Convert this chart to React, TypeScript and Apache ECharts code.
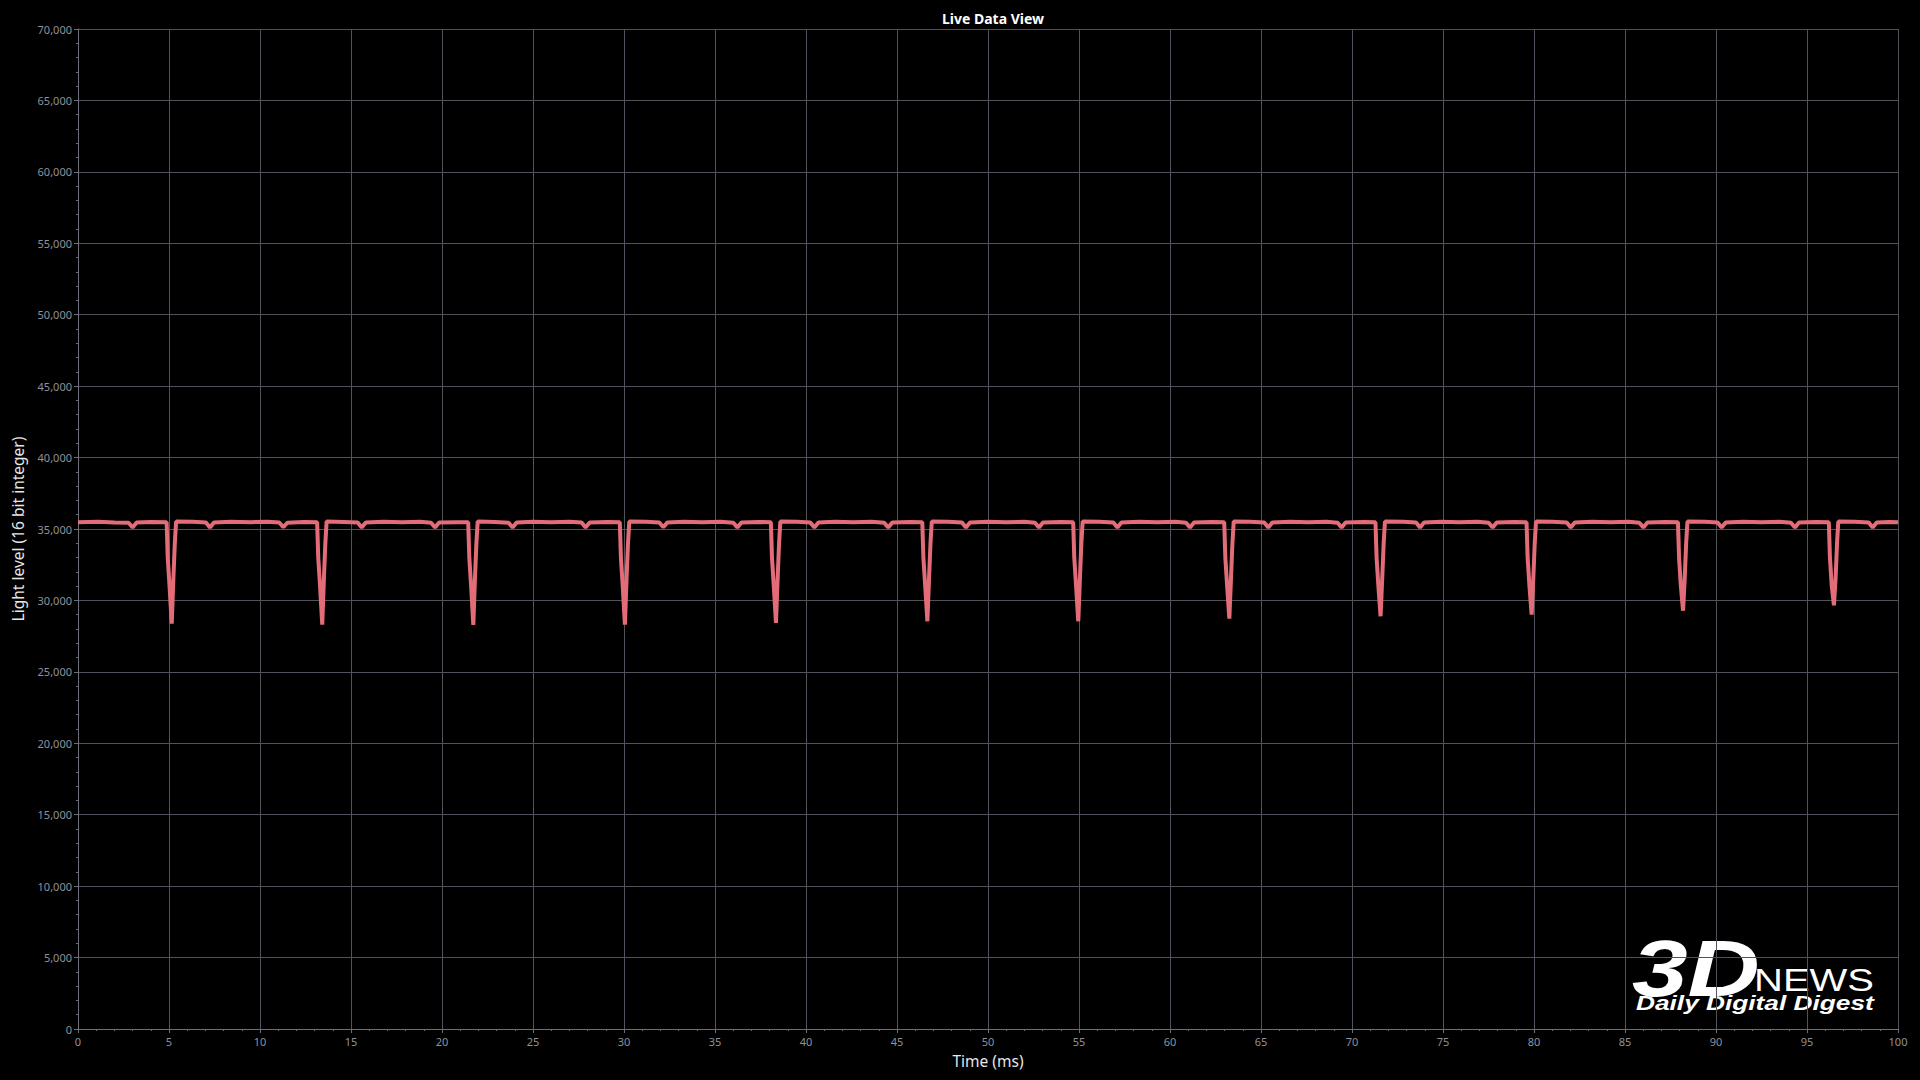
import React, { useEffect, useRef } from "react";
import * as echarts from "echarts";

const TITLE = "Live Data View";
const X_NAME = "Time (ms)";
const Y_NAME = "Light level (16 bit integer)";
const X_MIN = 0;
const X_MAX = 100;
const X_STEP = 5;
const Y_MIN = 0;
const Y_MAX = 70000;
const Y_STEP = 5000;

// [time (ms), light level]
const TRACE_POINTS: [number, number][] = [
  [0, 35470], [1.1, 35500], [2.0, 35460],
  [2.78, 35440], [3.0, 35110], [3.22, 35450],
  [4.0, 35490],
  [4.87, 35470], [4.93, 33000], [5.03, 31000], [5.15, 28370], [5.24, 31500], [5.32, 34000], [5.39, 35520],
  [6.3, 35500],
  [7.03, 35450], [7.25, 35100], [7.47, 35450],
  [8.4, 35500], [9.5, 35480], [10.4, 35510],
  [11.06, 35450], [11.28, 35120], [11.5, 35440],
  [12.4, 35490],
  [13.14, 35470], [13.2, 33000], [13.3, 31000], [13.42, 28300], [13.51, 31500], [13.59, 34000], [13.66, 35530],
  [14.6, 35490],
  [15.37, 35450], [15.59, 35110], [15.81, 35450],
  [16.8, 35500], [17.8, 35470], [18.8, 35500],
  [19.4, 35440], [19.62, 35100], [19.84, 35450],
  [20.8, 35480],
  [21.44, 35470], [21.5, 33000], [21.6, 31000], [21.72, 28280], [21.81, 31500], [21.89, 34000], [21.96, 35520],
  [22.9, 35490],
  [23.66, 35440], [23.88, 35110], [24.1, 35450],
  [25.0, 35500], [26.0, 35480], [27.0, 35510],
  [27.67, 35450], [27.89, 35110], [28.11, 35450],
  [29.1, 35490],
  [29.77, 35470], [29.83, 33000], [29.93, 31000], [30.05, 28300], [30.14, 31500], [30.22, 34000], [30.29, 35520],
  [31.2, 35500],
  [31.94, 35450], [32.16, 35120], [32.38, 35450],
  [33.3, 35500], [34.3, 35480], [35.3, 35500],
  [36.01, 35440], [36.23, 35100], [36.45, 35450],
  [37.4, 35490],
  [38.07, 35470], [38.13, 33000], [38.23, 31000], [38.35, 28420], [38.44, 31500], [38.52, 34000], [38.59, 35520],
  [39.5, 35500],
  [40.24, 35450], [40.46, 35110], [40.68, 35450],
  [41.6, 35500], [42.6, 35470], [43.6, 35500],
  [44.3, 35440], [44.52, 35100], [44.74, 35450],
  [45.7, 35490],
  [46.39, 35470], [46.45, 33000], [46.55, 31000], [46.67, 28540], [46.76, 31500], [46.84, 34000], [46.91, 35520],
  [47.8, 35500],
  [48.57, 35450], [48.79, 35110], [49.01, 35450],
  [50.0, 35500], [51.0, 35480], [52.0, 35500],
  [52.58, 35440], [52.8, 35100], [53.02, 35450],
  [54.0, 35490],
  [54.68, 35470], [54.74, 33000], [54.84, 31000], [54.96, 28540], [55.05, 31500], [55.13, 34000], [55.2, 35520],
  [56.1, 35500],
  [56.89, 35450], [57.11, 35110], [57.33, 35450],
  [58.3, 35500], [59.3, 35470], [60.3, 35500],
  [60.88, 35440], [61.1, 35100], [61.32, 35450],
  [62.3, 35490],
  [62.98, 35470], [63.04, 33000], [63.14, 31000], [63.26, 28720], [63.35, 31500], [63.43, 34000], [63.5, 35520],
  [64.4, 35500],
  [65.18, 35450], [65.4, 35110], [65.62, 35450],
  [66.6, 35500], [67.6, 35480], [68.6, 35500],
  [69.21, 35440], [69.43, 35100], [69.65, 35450],
  [70.6, 35490],
  [71.29, 35470], [71.35, 33000], [71.45, 31000], [71.57, 28890], [71.66, 31500], [71.74, 34000], [71.81, 35520],
  [72.8, 35500],
  [73.52, 35450], [73.74, 35110], [73.96, 35450],
  [74.9, 35500], [75.9, 35470], [76.9, 35500],
  [77.51, 35440], [77.73, 35100], [77.95, 35450],
  [78.9, 35490],
  [79.59, 35470], [79.65, 33000], [79.75, 31000], [79.87, 29000], [79.96, 31500], [80.04, 34000], [80.11, 35520],
  [81.0, 35500],
  [81.8, 35450], [82.02, 35110], [82.24, 35450],
  [83.2, 35500], [84.2, 35480], [85.2, 35500],
  [85.79, 35440], [86.01, 35100], [86.23, 35450],
  [87.2, 35490],
  [87.91, 35470], [87.97, 33000], [88.07, 31000], [88.19, 29280], [88.28, 31500], [88.36, 34000], [88.43, 35520],
  [89.4, 35500],
  [90.09, 35450], [90.31, 35110], [90.53, 35450],
  [91.5, 35500], [92.5, 35470], [93.5, 35500],
  [94.12, 35440], [94.34, 35100], [94.56, 35450],
  [95.5, 35490],
  [96.2, 35470], [96.26, 33000], [96.36, 31000], [96.48, 29660], [96.57, 31500], [96.65, 34000], [96.72, 35520],
  [97.6, 35500],
  [98.39, 35450], [98.61, 35110], [98.83, 35450],
  [99.5, 35490], [100, 35470],
];

const FONT = "'Noto Sans', 'Open Sans', sans-serif";
const GRID_COLOR = "#50535b";
const AXIS_COLOR = "#6d7078";
const LABEL_COLOR = "#8f929a";
const LINE_COLOR = "#e26d78";

export default function App() {
  const ref = useRef<HTMLDivElement>(null);

  useEffect(() => {
    document.body.style.margin = "0";
    document.body.style.background = "#000";
    if (!ref.current) return;
    const chart = echarts.init(ref.current, null, { renderer: "svg" });
    chart.setOption({
      animation: false,
      backgroundColor: "#000000",
      title: {
        text: TITLE,
        left: 988,
        top: 6,
        textAlign: "center",
        textStyle: { color: "#ffffff", fontSize: 14, fontWeight: "bold", fontFamily: FONT },
      },
      grid: { left: 78, right: 22, top: 29, bottom: 51, containLabel: false },
      xAxis: {
        type: "value",
        min: X_MIN,
        max: X_MAX,
        interval: X_STEP,
        name: X_NAME,
        nameLocation: "middle",
        nameGap: 24,
        nameTextStyle: { color: "#e6e6e6", fontSize: 15.5, fontFamily: FONT },
        axisLine: { show: true, lineStyle: { color: AXIS_COLOR, width: 1 } },
        axisTick: { show: true, length: 4, lineStyle: { color: AXIS_COLOR } },
        minorTick: { show: true, splitNumber: 5, length: 2, lineStyle: { color: AXIS_COLOR } },
        axisLabel: { color: LABEL_COLOR, fontSize: 11, fontFamily: FONT, margin: 7 },
        splitLine: { show: true, lineStyle: { color: GRID_COLOR, width: 1 } },
      },
      yAxis: {
        type: "value",
        min: Y_MIN,
        max: Y_MAX,
        interval: Y_STEP,
        name: Y_NAME,
        nameLocation: "middle",
        nameGap: 52,
        nameRotate: 90,
        nameTextStyle: { color: "#e6e6e6", fontSize: 15.5, fontFamily: FONT },
        axisLine: { show: true, lineStyle: { color: AXIS_COLOR, width: 1 } },
        axisTick: { show: true, length: 4, lineStyle: { color: AXIS_COLOR } },
        minorTick: { show: true, splitNumber: 5, length: 2, lineStyle: { color: AXIS_COLOR } },
        axisLabel: {
          color: LABEL_COLOR,
          fontSize: 11,
          fontFamily: FONT,
          margin: 6,
          formatter: (v: number) => v.toLocaleString("en-US"),
        },
        splitLine: { show: true, lineStyle: { color: GRID_COLOR, width: 1 } },
      },
      graphic: [
        {
          type: "text",
          x: 1632,
          y: 928,
          scaleX: 1.25,
          style: {
            text: "3D",
            fill: "#ffffff",
            font: "italic bold 80px 'Liberation Sans', sans-serif",
          },
        },
        {
          type: "text",
          x: 1754,
          y: 964,
          scaleX: 1.25,
          style: {
            text: "NEWS",
            fill: "#ffffff",
            font: "32px 'Liberation Sans', sans-serif",
          },
        },
        {
          type: "text",
          x: 1636,
          y: 992,
          scaleX: 1.25,
          style: {
            text: "Daily Digital Digest",
            fill: "#ffffff",
            font: "italic bold 21px 'Liberation Sans', sans-serif",
          },
        },
      ],
      series: [
        {
          type: "line",
          data: TRACE_POINTS,
          showSymbol: false,
          symbol: "none",
          lineStyle: { color: LINE_COLOR, width: 4 },
          z: 5,
        },
      ],
    });
    return () => chart.dispose();
  }, []);

  return <div ref={ref} style={{ width: 1920, height: 1080, background: "#000" }} />;
}
